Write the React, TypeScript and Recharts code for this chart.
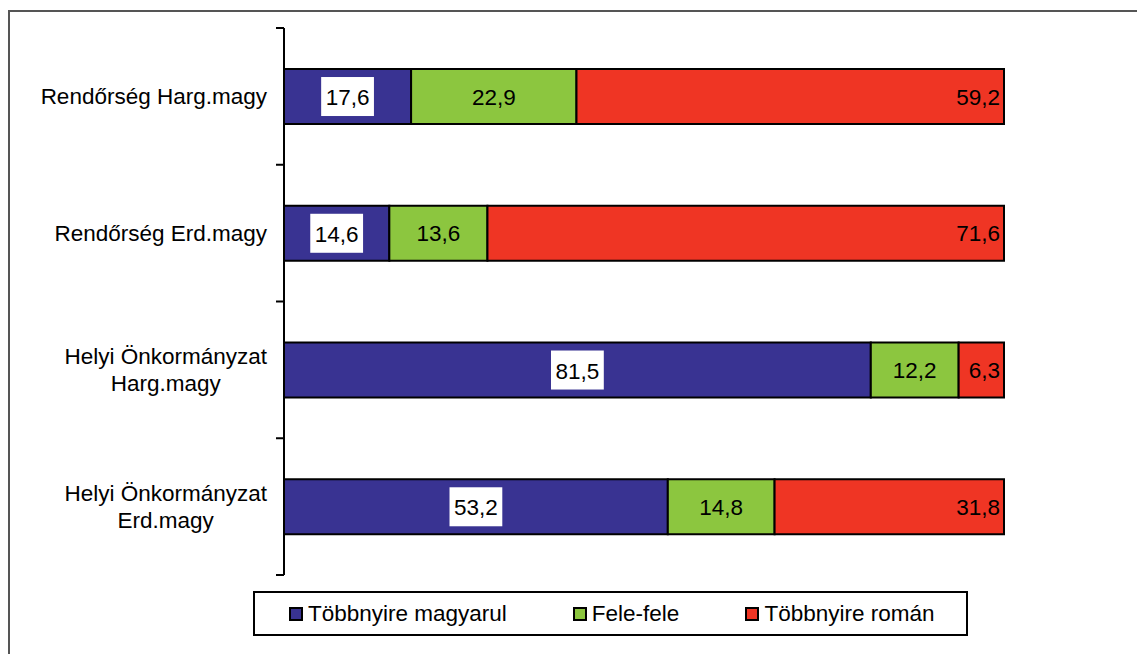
import React from 'react';
import { BarChart, Bar, XAxis, YAxis, LabelList } from 'recharts';

const categories = [
  'Rendőrség Harg.magy',
  'Rendőrség Erd.magy',
  'Helyi Önkormányzat\nHarg.magy',
  'Helyi Önkormányzat\nErd.magy',
];
const magyarul = [17.6, 14.6, 81.5, 53.2];
const felefele = [22.9, 13.6, 12.2, 14.8];
const roman = [59.2, 71.6, 6.3, 31.8];

const seriesNames = ['Többnyire magyarul', 'Fele-fele', 'Többnyire román'];
const seriesColors = ['#393392', '#8cc63f', '#ef3524'];

const FONT = '"Liberation Sans", Arial, sans-serif';
const FS = 22.5;

const chartData = categories.map((name, i) => ({
  name,
  m: magyarul[i],
  f: felefele[i],
  r: roman[i],
}));

// plot box
const TOP = 28;
const BOTTOM = 575;
const AXIS_X = 284;
const BAND = (BOTTOM - TOP) / categories.length;

let ctx: CanvasRenderingContext2D | null = null;
const textWidth = (s: string, size = FS) => {
  if (!ctx) ctx = document.createElement('canvas').getContext('2d');
  if (!ctx) return s.length * size * 0.55;
  ctx.font = `${size}px "Liberation Sans", Arial`;
  return ctx.measureText(s).width;
};

const fmt = (v: any) => Number(v).toFixed(1).replace('.', ',');

const CategoryTick = (props: any) => {
  const { y, payload, index } = props;
  const lines: string[] = String(payload.value).split('\n');
  const right = 267;
  const maxW = Math.max(...lines.map((l) => textWidth(l)));
  const lineH = 27;
  const startY = y - ((lines.length - 1) * lineH) / 2;
  return (
    <g>
      {lines.map((l, k) => (
        <text
          key={k}
          x={lines.length > 1 ? right - maxW / 2 : right}
          y={startY + k * lineH}
          textAnchor={lines.length > 1 ? 'middle' : 'end'}
          dominantBaseline="central"
          fontSize={FS}
          fontFamily={FONT}
          fill="#000"
        >
          {l}
        </text>
      ))}
      <line x1={AXIS_X - 8} x2={AXIS_X} y1={y - BAND / 2} y2={y - BAND / 2} stroke="#000" strokeWidth={2} />
      {index === categories.length - 1 && (
        <line x1={AXIS_X - 8} x2={AXIS_X} y1={y + BAND / 2} y2={y + BAND / 2} stroke="#000" strokeWidth={2} />
      )}
    </g>
  );
};

// blue segment labels sit on a white box
const BoxedLabel = (props: any) => {
  const { x, y, width, height, value } = props;
  const txt = fmt(value);
  const w = textWidth(txt) + 9;
  const h = 39;
  const cx = x + width / 2;
  const cy = y + height / 2;
  return (
    <g>
      <rect x={cx - w / 2} y={cy - h / 2} width={w} height={h} fill="#fff" />
      <text x={cx} y={cy + 1} textAnchor="middle" dominantBaseline="central" fontSize={FS} fontFamily={FONT} fill="#000">
        {txt}
      </text>
    </g>
  );
};

export default function App() {
  return (
    <div style={{ position: 'fixed', left: 0, top: 0, width: 1137, height: 654, background: '#fff', fontFamily: FONT }}>
      <div
        style={{
          position: 'absolute',
          left: 8,
          top: 10,
          width: 1129,
          height: 644,
          borderTop: '2px solid #555',
          borderLeft: '2px solid #555',
          boxSizing: 'border-box',
        }}
      />
      <div style={{ position: 'absolute', left: 0, top: 0 }}>
        <BarChart
          width={1137}
          height={654}
          data={chartData}
          layout="vertical"
          stackOffset="expand"
          barCategoryGap="30%"
          margin={{ top: TOP, right: 133, bottom: 654 - BOTTOM, left: 0 }}
        >
          <XAxis type="number" domain={[0, 1]} hide />
          <YAxis
            type="category"
            dataKey="name"
            width={AXIS_X}
            axisLine={{ stroke: '#000', strokeWidth: 2 }}
            tickLine={false}
            tick={<CategoryTick />}
            interval={0}
          />
          <Bar dataKey="m" stackId="a" fill={seriesColors[0]} stroke="#000" strokeWidth={2} isAnimationActive={false}>
            <LabelList dataKey="m" content={<BoxedLabel />} />
          </Bar>
          <Bar dataKey="f" stackId="a" fill={seriesColors[1]} stroke="#000" strokeWidth={2} isAnimationActive={false}>
            <LabelList dataKey="f" position="center" formatter={fmt} fill="#000" fontSize={FS} fontFamily={FONT} />
          </Bar>
          <Bar dataKey="r" stackId="a" fill={seriesColors[2]} stroke="#000" strokeWidth={2} isAnimationActive={false}>
            <LabelList dataKey="r" position="insideRight" offset={4} formatter={fmt} fill="#000" fontSize={FS} fontFamily={FONT} />
          </Bar>
        </BarChart>
      </div>
      <div
        style={{
          position: 'absolute',
          left: 253,
          top: 591,
          width: 715,
          height: 45,
          boxSizing: 'border-box',
          border: '2px solid #000',
          display: 'flex',
          alignItems: 'center',
          paddingLeft: 34,
          fontSize: FS,
          color: '#000',
          whiteSpace: 'nowrap',
        }}
      >
        {seriesNames.map((n, i) => (
          <div key={n} style={{ display: 'flex', alignItems: 'center', marginRight: 66, flexShrink: 0 }}>
            <span
              style={{
                display: 'inline-block',
                width: 14,
                height: 14,
                boxSizing: 'border-box',
                background: seriesColors[i],
                border: '2px solid #000',
                marginRight: 5,
              }}
            />
            <span>{n}</span>
          </div>
        ))}
      </div>
    </div>
  );
}
